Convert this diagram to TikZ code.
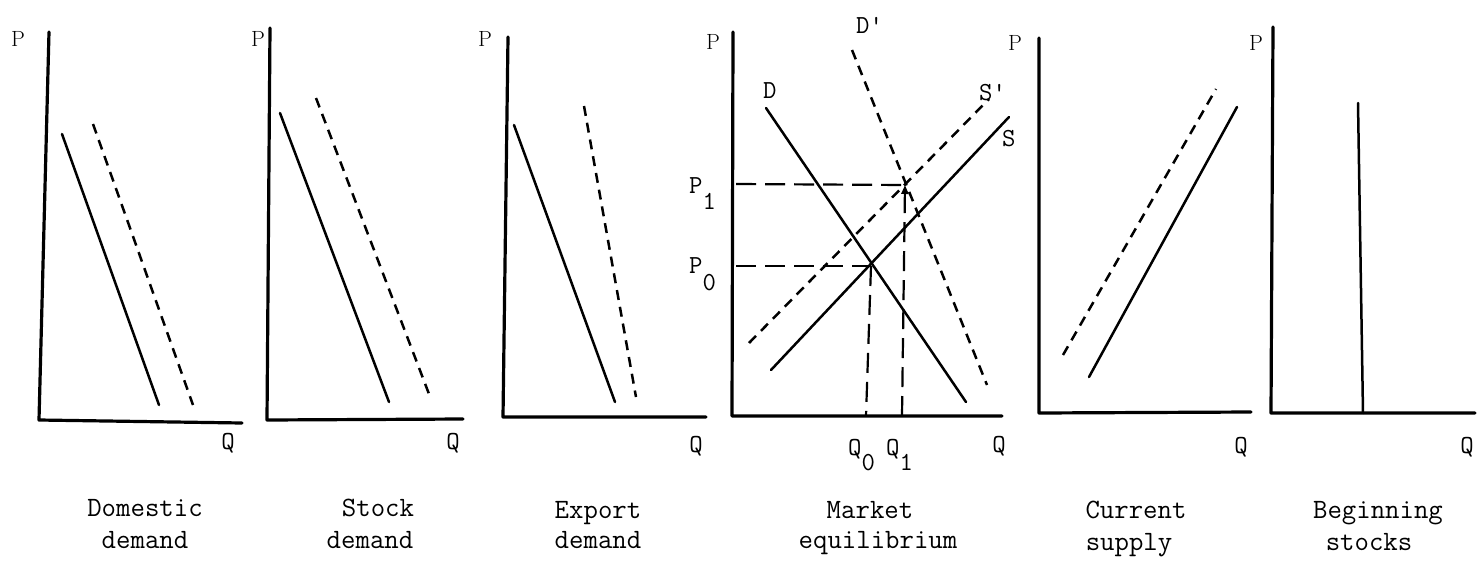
\documentclass[tikz,border=0pt]{standalone}
\usetikzlibrary{arrows.meta}
\begin{document}
\begin{tikzpicture}[x=1pt,y=-1pt,
  axis/.style={line width=3.2pt, line cap=round, line join=round},
  curve/.style={line width=2.5pt, line cap=round},
  dcurve/.style={line width=2.5pt, dash pattern=on 10pt off 7pt},
  guide/.style={line width=2.2pt, dash pattern=on 20pt off 9pt},
  lbl/.style={font=\fontsize{26}{28}\selectfont\ttfamily, inner sep=0pt},
  plbl/.style={font=\fontsize{22}{24}\selectfont\rmfamily, inner sep=0pt},
  caption/.style={font=\fontsize{28}{32}\selectfont\ttfamily, inner sep=0pt, anchor=base}]
\useasboundingbox (0,0) rectangle (1478,560);

% ---------- Panel 1: Domestic demand ----------
\coordinate (a1t) at (49,32); \coordinate (a1o) at (39,420); \coordinate (a1e) at (242,423);
\draw[axis] (a1t) -- (a1o) -- (a1e);
\coordinate (s1a) at (62,134); \coordinate (s1b) at (159,405);
\coordinate (d1a) at (93,124); \coordinate (d1b) at (193,405);
\draw[curve] (s1a) -- (s1b);
\draw[dcurve] (d1a) -- (d1b);
\node[plbl] (p1P) at (18,39) {P};
\node[lbl] (p1Q) at (228,443) {Q};
\node[caption] (c1a) at (145,516) {Domestic};
\node[caption] (c1b) at (145,548) {demand};

% ---------- Panel 2: Stock demand ----------
\coordinate (a2t) at (270,28); \coordinate (a2o) at (267,420); \coordinate (a2e) at (463,419);
\draw[axis] (a2t) -- (a2o) -- (a2e);
\coordinate (s2a) at (280,113); \coordinate (s2b) at (389,402);
\coordinate (d2a) at (316,98); \coordinate (d2b) at (429,394);
\draw[curve] (s2a) -- (s2b);
\draw[dcurve] (d2a) -- (d2b);
\node[plbl] (p2P) at (258,39) {P};
\node[lbl] (p2Q) at (453,443) {Q};
\node[caption] (c2a) at (378,516) {Stock};
\node[caption] (c2b) at (370,548) {demand};

% ---------- Panel 3: Export demand ----------
\coordinate (a3t) at (508,37); \coordinate (a3o) at (503,417); \coordinate (a3e) at (706,417);
\draw[axis] (a3t) -- (a3o) -- (a3e);
\coordinate (s3a) at (514,125); \coordinate (s3b) at (615,402);
\coordinate (d3a) at (584,106); \coordinate (d3b) at (636,397);
\draw[curve] (s3a) -- (s3b);
\draw[dcurve] (d3a) -- (d3b);
\node[plbl] (p3P) at (485,39) {P};
\node[lbl] (p3Q) at (696,446) {Q};
\node[caption] (c3a) at (598,518) {Export};
\node[caption] (c3b) at (598,548) {demand};

% ---------- Panel 4: Market equilibrium ----------
\coordinate (a4t) at (733,32); \coordinate (a4o) at (732,416); \coordinate (a4e) at (1002,416);
\draw[axis] (a4t) -- (a4o) -- (a4e);
\coordinate (Da) at (766,108); \coordinate (Db) at (966,402);
\coordinate (Sa) at (771,370); \coordinate (Sb) at (1009,117);
\coordinate (Dpa) at (852,50); \coordinate (Dpb) at (987,385);
\coordinate (Spa) at (749,343); \coordinate (Spb) at (989,99);
\draw[curve] (Da) -- (Db);
\draw[curve] (Sa) -- (Sb);
\draw[dcurve] (Dpa) -- (Dpb);
\draw[dcurve] (Spa) -- (Spb);
\coordinate (E0) at (871,266); \coordinate (E1) at (905,185);
\coordinate (P0a) at (736,266); \coordinate (P1a) at (736,184);
\coordinate (Q0b) at (866,416); \coordinate (Q1b) at (902,416);
\draw[guide] (P0a) -- (E0);
\draw[guide] (P1a) -- (E1);
\draw[guide] (E0) -- (Q0b);
\draw[guide, -{Triangle[length=9pt,width=7pt]}] (Q1b) -- (E1);
\node[plbl] (p4P) at (713,42) {P};
\node[lbl, anchor=base west] (lD) at (763,98) {D};
\node[lbl, anchor=base west] (lDp) at (856,33) {D'};
\node[lbl, anchor=base west] (lSp) at (979,100) {S'};
\node[lbl, anchor=base west] (lS) at (1002,146) {S};
\node[lbl, anchor=base west] (lP1) at (689,193) {P\raisebox{-16pt}{1}};
\node[lbl, anchor=base west] (lP0) at (689,273) {P\raisebox{-17pt}{0}};
\node[lbl, anchor=base west] (lQ0) at (848,455) {Q\raisebox{-15pt}{0}};
\node[lbl, anchor=base west] (lQ1) at (886,455) {Q\raisebox{-15pt}{1}};
\node[lbl] (p4Q) at (999,446) {Q};
\node[caption] (c4a) at (870,518) {Market};
\node[caption] (c4b) at (878,548) {equilibrium};

% ---------- Panel 5: Current supply ----------
\coordinate (a5t) at (1039,38); \coordinate (a5o) at (1039,413); \coordinate (a5e) at (1251,412);
\draw[axis] (a5t) -- (a5o) -- (a5e);
\coordinate (s5a) at (1089,377); \coordinate (s5b) at (1237,107);
\coordinate (d5a) at (1063,355); \coordinate (d5b) at (1216,89);
\draw[curve] (s5a) -- (s5b);
\draw[dcurve] (d5a) -- (d5b);
\node[plbl] (p5P) at (1015,43) {P};
\node[lbl] (p5Q) at (1241,447) {Q};
\node[caption] (c5a) at (1136,518) {Current};
\node[caption] (c5b) at (1129,550) {supply};

% ---------- Panel 6: Beginning stocks ----------
\coordinate (a6t) at (1273,27); \coordinate (a6o) at (1271,413); \coordinate (a6e) at (1475,413);
\draw[axis] (a6t) -- (a6o) -- (a6e);
\coordinate (v6a) at (1358,103); \coordinate (v6b) at (1363,413);
\draw[curve] (v6a) -- (v6b);
\node[plbl] (p6P) at (1256,43) {P};
\node[lbl] (p6Q) at (1467,447) {Q};
\node[caption] (c6a) at (1378,518) {Beginning};
\node[caption] (c6b) at (1369,550) {stocks};
\end{tikzpicture}
\end{document}
